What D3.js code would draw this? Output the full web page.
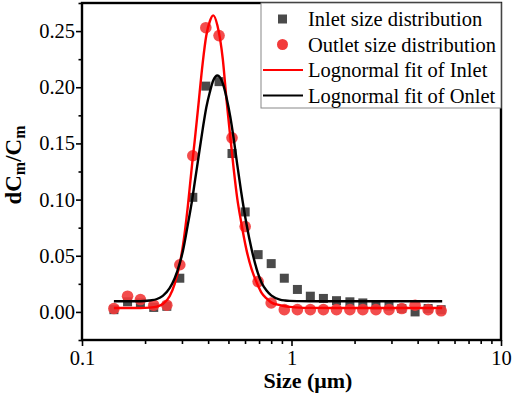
<!DOCTYPE html>
<html>
<head>
<meta charset="utf-8">
<script src="https://cdn.jsdelivr.net/npm/d3@7"></script>
<style>
    body { margin: 0; background: #fff; }
    text { font-family: "Liberation Serif", "Times New Roman", serif; }
</style>
</head>
<body>
<div id="chart"></div>
<script>
// Particle size bins (um) and measured distributions
var sizes = [0.142, 0.165, 0.190, 0.220, 0.254, 0.293, 0.338, 0.390, 0.451, 0.520, 0.601, 0.693, 0.800,
    0.924, 1.067, 1.23, 1.42, 1.64, 1.90, 2.19, 2.53, 2.92, 3.36, 3.89, 4.49, 5.18];
var inlet = [0.002, 0.009, 0.008, 0.004, 0.005, 0.030, 0.102, 0.201, 0.205, 0.141, 0.089, 0.051, 0.043,
    0.030, 0.020, 0.014, 0.012, 0.010, 0.009, 0.008, 0.006, 0.005, 0.003, 0.000, 0.003, 0.002];
var outlet = [0.003, 0.014, 0.011, 0.006, 0.006, 0.042, 0.139, 0.253, 0.246, 0.155, 0.076, 0.027, 0.008,
    0.002, 0.002, 0.002, 0.002, 0.002, 0.002, 0.002, 0.002, 0.002, 0.003, 0.006, 0.002, 0.001];

// Fit curves
var fitSizes = [0.142, 0.19, 0.21, 0.228, 0.243, 0.262, 0.277, 0.293, 0.303, 0.32, 0.336, 0.345, 0.358,
    0.377, 0.392, 0.408, 0.423, 0.443, 0.47, 0.49, 0.51, 0.53, 0.55, 0.575, 0.61, 0.645, 0.69, 0.72,
    0.76, 0.80, 0.88, 0.93, 0.98, 1.09, 1.22, 1.6, 5.24];
var fitInlet = [0.0035, 0.0035, 0.0038, 0.0047, 0.007, 0.014, 0.025, 0.043, 0.0585, 0.094, 0.133, 0.152, 0.181,
    0.222, 0.246, 0.259, 0.264, 0.255, 0.225, 0.188, 0.156, 0.127, 0.102, 0.080, 0.055, 0.038, 0.024, 0.017,
    0.012, 0.0085, 0.006, 0.005, 0.0045, 0.0038, 0.0036, 0.0035, 0.0035];
var fitOnlet = [0.0095, 0.0095, 0.0102, 0.0115, 0.0143, 0.0212, 0.030, 0.0435, 0.054, 0.0777, 0.1004, 0.115, 0.135,
    0.163, 0.182, 0.196, 0.206, 0.2105, 0.2035, 0.1905, 0.174, 0.154, 0.132, 0.107, 0.078, 0.0557, 0.035, 0.026,
    0.019, 0.0147, 0.011, 0.0102, 0.0098, 0.0096, 0.0095, 0.0095, 0.0095];

var xMajor = [0.1, 1, 10];
var xMinor = [0.2, 0.3, 0.4, 0.5, 0.6, 0.7, 0.8, 0.9, 2, 3, 4, 5, 6, 7, 8, 9];
var yMajor = [0, 0.05, 0.10, 0.15, 0.20, 0.25];
var yMinor = [-0.025, 0.025, 0.075, 0.125, 0.175, 0.225, 0.275];

var legendItems = ["Inlet size distribution", "Outlet size distribution",
    "Lognormal fit of Inlet", "Lognormal fit of Onlet"];

var W = 512, H = 397,
    margin = {top: 3, right: 11, bottom: 57, left: 82},
    width = W - margin.left - margin.right,
    height = H - margin.top - margin.bottom;

var red = "#ff0000", redDot = "#f23a3a", gray = "#4a4a4a";

var svg = d3.select("#chart").append("svg")
    .attr("width", W)
    .attr("height", H)
    .style("background", "#fff");

var g = svg.append("g")
    .attr("transform", "translate(" + margin.left + "," + margin.top + ")");

var x = d3.scaleLog().domain([0.1, 10]).range([0, width]);
var y = d3.scaleLinear().domain([-0.025, 0.275]).range([height, 0]);

// Axes
var xAxis = g.append("g").attr("transform", "translate(0," + height + ")");
xAxis.call(d3.axisBottom(x).tickValues(xMajor).tickSize(6).tickFormat(d3.format("")));
xAxis.append("g").call(d3.axisBottom(x).tickValues(xMinor).tickSize(4).tickFormat(""));

var yAxis = g.append("g");
yAxis.call(d3.axisLeft(y).tickValues(yMajor).tickSize(6).tickFormat(d3.format(".2f")));
yAxis.append("g").call(d3.axisLeft(y).tickValues(yMinor).tickSize(3.5).tickFormat(""));

g.selectAll(".domain").remove();
g.selectAll(".tick line").attr("stroke", "#000").attr("stroke-width", 1.6);
g.selectAll(".tick text")
    .style("font-family", "Liberation Serif, serif")
    .style("font-size", "20.5px")
    .attr("fill", "#000");
xAxis.selectAll(".tick text").attr("y", 10);
yAxis.selectAll(".tick text").attr("x", -7);

// Frame
g.append("rect")
    .attr("x", 0).attr("y", 0)
    .attr("width", width).attr("height", height)
    .attr("fill", "none")
    .attr("stroke", "#000")
    .attr("stroke-width", 2.4);

// Markers: squares first, then circles
g.selectAll(".sq")
    .data(sizes)
    .enter().append("rect")
    .attr("class", "sq")
    .attr("x", function(d) { return x(d) - 4.5; })
    .attr("y", function(d, i) { return y(inlet[i]) - 4.5; })
    .attr("width", 9).attr("height", 9)
    .attr("fill", gray);

g.selectAll(".dot")
    .data(sizes)
    .enter().append("circle")
    .attr("class", "dot")
    .attr("cx", function(d) { return x(d); })
    .attr("cy", function(d, i) { return y(outlet[i]); })
    .attr("r", 5.8)
    .attr("fill", redDot)
    .attr("fill-opacity", 0.9);

// Fit lines
var line = d3.line()
    .x(function(d) { return x(d[0]); })
    .y(function(d) { return y(d[1]); })
    .curve(d3.curveMonotoneX);

g.append("path")
    .datum(fitSizes.map(function(s, i) { return [s, fitInlet[i]]; }))
    .attr("d", line)
    .attr("fill", "none")
    .attr("stroke", red)
    .attr("stroke-width", 2.4);

g.append("path")
    .datum(fitSizes.map(function(s, i) { return [s, fitOnlet[i]]; }))
    .attr("d", line)
    .attr("fill", "none")
    .attr("stroke", "#000")
    .attr("stroke-width", 2.4);

// Legend
var lg = svg.append("g").attr("transform", "translate(261,3)");
lg.append("rect")
    .attr("width", 240).attr("height", 105)
    .attr("fill", "#fff")
    .attr("stroke", "#888")
    .attr("stroke-width", 1);

var rowY = [16, 41.5, 67, 92.5];
lg.append("rect").attr("x", 17).attr("y", rowY[0] - 4.5).attr("width", 9).attr("height", 9).attr("fill", gray);
lg.append("circle").attr("cx", 21.5).attr("cy", rowY[1]).attr("r", 5.5).attr("fill", redDot);
lg.append("line").attr("x1", 2).attr("x2", 42).attr("y1", rowY[2]).attr("y2", rowY[2])
    .attr("stroke", red).attr("stroke-width", 2.2);
lg.append("line").attr("x1", 2).attr("x2", 42).attr("y1", rowY[3]).attr("y2", rowY[3])
    .attr("stroke", "#000").attr("stroke-width", 2.2);

lg.selectAll(".lt")
    .data(legendItems)
    .enter().append("text")
    .attr("class", "lt")
    .attr("x", 47)
    .attr("y", function(d, i) { return rowY[i]; })
    .attr("dy", "0.35em")
    .style("font-size", "20.5px")
    .text(function(d) { return d; });

// Axis titles
svg.append("text")
    .attr("x", 308)
    .attr("y", 388)
    .attr("text-anchor", "middle")
    .style("font-size", "22px")
    .style("font-weight", "bold")
    .text("Size (\u03bcm)");

var yt = svg.append("text")
    .attr("transform", "translate(21,165) rotate(-90)")
    .attr("text-anchor", "middle")
    .style("font-size", "23px")
    .style("font-weight", "bold");
yt.append("tspan").text("dC");
yt.append("tspan").attr("dy", 4).style("font-size", "16px").text("m");
yt.append("tspan").attr("dy", -4).text("/C");
yt.append("tspan").attr("dy", 4).style("font-size", "16px").text("m");
</script>
</body>
</html>
